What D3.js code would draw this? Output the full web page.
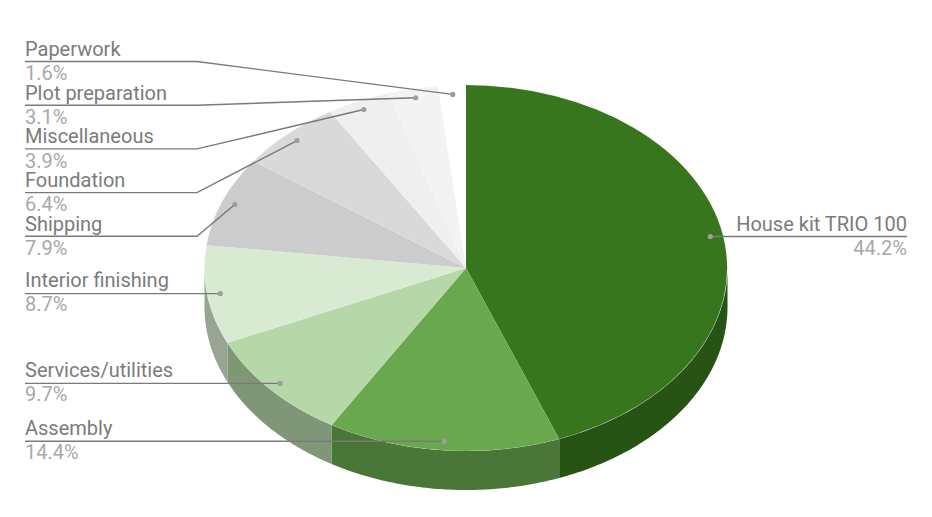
<!DOCTYPE html>
<html>
<head>
<meta charset="utf-8">
<script src="https://cdn.jsdelivr.net/npm/d3@7"></script>
<style>
html,body{margin:0;padding:0;background:#fff;}
svg{display:block;}
text{font-family:Roboto,sans-serif;font-size:20px;}
</style>
</head>
<body>
<div id="chart"></div>
<script>
const categories = ["House kit TRIO 100","Assembly","Services/utilities","Interior finishing","Shipping","Foundation","Miscellaneous","Plot preparation","Paperwork"];
const values = [44.2,14.4,9.7,8.7,7.9,6.4,3.9,3.1,1.6];
const valueLabels = ["44.2%","14.4%","9.7%","8.7%","7.9%","6.4%","3.9%","3.1%","1.6%"];
const colors = ["#38761d","#6aa84f","#b6d7a8","#d9ead3","#cccccc","#d9d9d9","#efefef","#f3f3f3","#ffffff"];

const W = 932, H = 517;
const cx = 466, cy = 268, rx = 261.5, ry = 183, depth = 39;
const dotFrac = 0.95, sideShade = 0.7;
const leftX = 25, elbowX = 197, rightX = 907;
const stackBottomY = 236.3, stackStep = 43.7, stackFrom = 4;

const svg = d3.select("#chart").append("svg").attr("width", W).attr("height", H);
// values are percentages, so each slice keeps its own share of the full circle
const pie = d3.pie().value(d => d).sort(null).endAngle(2*Math.PI*d3.sum(values)/100);
const arcs = pie(values);
const shade = c => { const k = d3.rgb(c); return d3.rgb(k.r*sideShade, k.g*sideShade, k.b*sideShade).formatHex(); };

const px = a => cx + rx*Math.sin(a);
const py = a => cy - ry*Math.cos(a);

// side wall, only the front half of the ellipse is visible
const wall = d3.area().x(px).y0(py).y1(a => py(a)+depth);
const walls = svg.append("g");
arcs.forEach((s,i) => {
  const a0 = Math.max(s.startAngle, Math.PI/2), a1 = Math.min(s.endAngle, 3*Math.PI/2);
  if (a1 <= a0) return;
  const n = 80, ang = d3.range(n+1).map(k => a0 + (a1-a0)*k/n);
  walls.append("path").attr("d", wall(ang)).attr("fill", shade(colors[i]));
});

// top face
const arc = d3.arc().innerRadius(0).outerRadius(1);
svg.append("g").attr("transform", `translate(${cx},${cy}) scale(${rx},${ry})`)
  .selectAll("path").data(arcs).join("path")
  .attr("d", arc).attr("fill", (d,i) => colors[i])
  .attr("stroke", "#fff").attr("stroke-opacity", 0.1).attr("stroke-width", 0.5)
  .attr("vector-effect", "non-scaling-stroke");

// leader lines and labels
const layer = svg.append("g");
arcs.forEach((s,i) => {
  // the last slice runs up to the top of the circle
  const end = i === arcs.length-1 ? 2*Math.PI : s.endAngle;
  const mid = (s.startAngle+end)/2;
  const dx = cx + rx*dotFrac*Math.sin(mid), dy = cy - ry*dotFrac*Math.cos(mid);
  const onRight = mid < Math.PI;
  const stacked = i >= stackFrom;
  const ly = stacked ? stackBottomY - (i-stackFrom)*stackStep : dy;
  const nudge = stacked || onRight ? 0 : -0.8;
  const pts = onRight ? [[rightX,ly],[dx,ly],[dx,dy]]
    : [[leftX,ly],[elbowX,ly],[dx,dy]];
  layer.append("path").attr("d", d3.line()(pts)).attr("fill","none")
    .attr("stroke","#7a7a7a").attr("stroke-width",1.4);
  layer.append("circle").attr("cx",dx).attr("cy",dy).attr("r",2.6).attr("fill","#9e9e9e");
  const tx = onRight ? rightX : leftX, anchor = onRight ? "end" : "start";
  layer.append("text").attr("x",tx).attr("y",ly-5.5+nudge).attr("text-anchor",anchor).attr("fill","#7b7b7b").text(categories[i]);
  layer.append("text").attr("x",tx).attr("y",ly+18.7+nudge).attr("text-anchor",anchor).attr("fill","#a8a8a8").text(valueLabels[i]);
});
</script>
</body>
</html>
